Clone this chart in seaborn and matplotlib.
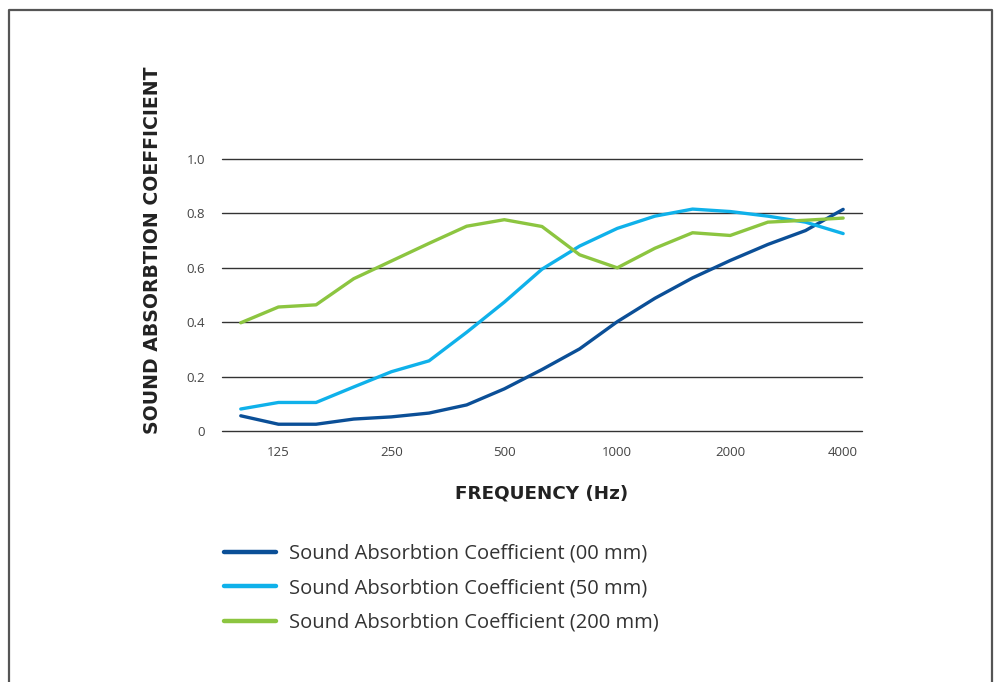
import pandas as pd
import matplotlib
matplotlib.use("Agg")
import matplotlib.pyplot as plt
import seaborn as sns

# third-octave bands, 100 Hz .. 4000 Hz
bands = ["100", "125", "160", "200", "250", "315", "400", "500", "630",
         "800", "1000", "1250", "1600", "2000", "2500", "3150", "4000"]
tick_labels = ["125", "250", "500", "1000", "2000", "4000"]

coef_00 = [0.056, 0.025, 0.025, 0.044, 0.052, 0.066, 0.096, 0.155, 0.226,
           0.302, 0.402, 0.488, 0.563, 0.627, 0.686, 0.737, 0.815]
coef_50 = [0.081, 0.105, 0.105, 0.162, 0.218, 0.258, 0.363, 0.474, 0.595,
           0.680, 0.745, 0.790, 0.816, 0.807, 0.790, 0.768, 0.726]
coef_200 = [0.398, 0.456, 0.464, 0.560, 0.625, 0.690, 0.753, 0.777, 0.752,
            0.648, 0.600, 0.672, 0.729, 0.719, 0.768, 0.775, 0.783]

series_names = [
    "Sound Absorbtion Coefficient (00 mm)",
    "Sound Absorbtion Coefficient (50 mm)",
    "Sound Absorbtion Coefficient (200 mm)",
]
colors = ["#0b4f97", "#0fb1ea", "#8cc540"]

rows = []
for name, vals in zip(series_names, [coef_00, coef_50, coef_200]):
    for i, (b, v) in enumerate(zip(bands, vals)):
        rows.append({"pos": i, "band": b, "coef": v, "series": name})
df = pd.DataFrame(rows)

sns.set_theme(style="white")
plt.rcParams["font.family"] = ["Open Sans", "DejaVu Sans"]

fig = plt.figure(figsize=(9.98, 6.82), dpi=100)
ax = fig.add_axes([0.2224, 0.368, 0.6413, 0.3988])

# outer frame, open at the bottom
fig.add_artist(plt.Line2D([0.0095, 0.0095, 0.9935, 0.9935], [0.0, 0.986, 0.986, 0.0],
                          transform=fig.transFigure, color="#555555", lw=1.6))

for yv in [0, 0.2, 0.4, 0.6, 0.8, 1.0]:
    ax.axhline(yv, color="#333333", lw=1.0, zorder=1)

sns.lineplot(data=df, x="pos", y="coef", hue="series", palette=colors,
             linewidth=2.4, ax=ax, legend=True, zorder=3)
for ln in ax.lines:
    ln.set_clip_on(False)
    ln.set_solid_capstyle("round")

ax.set_xlim(-0.5, 16.5)
ax.set_ylim(0, 1.0)
for s in ax.spines.values():
    s.set_visible(False)

tick_pos = [bands.index(t) for t in tick_labels]
ax.set_xticks(tick_pos)
ax.set_xticklabels(tick_labels)
ax.set_yticks([0, 0.2, 0.4, 0.6, 0.8, 1.0])
ax.set_yticklabels(["0", "0.2", "0.4", "0.6", "0.8", "1.0"])
ax.tick_params(axis="both", length=0, labelsize=9.5, labelcolor="#444444")
ax.tick_params(axis="x", pad=11)
ax.tick_params(axis="y", pad=12)

bold = {"family": ["DejaVu Sans"], "weight": "bold", "color": "#222222"}
ax.set_xlabel("FREQUENCY (Hz)", fontdict=bold, fontsize=13.2, labelpad=18)
ax.set_ylabel("SOUND ABSORBTION COEFFICIENT", fontdict=bold, fontsize=13.6)
ax.yaxis.set_label_coords(-0.093, 0.665)

handles, labels = ax.get_legend_handles_labels()
ax.legend(handles, labels, loc="upper left", bbox_to_anchor=(0.2244, 0.203),
          bbox_transform=fig.transFigure, frameon=False, fontsize=14.5,
          handlelength=2.6, handletextpad=0.65, labelspacing=0.72,
          borderpad=0, borderaxespad=0, labelcolor="#333333")
for h in ax.get_legend().get_lines():
    h.set_linewidth(3.2)

plt.savefig("out.png", dpi=100)
